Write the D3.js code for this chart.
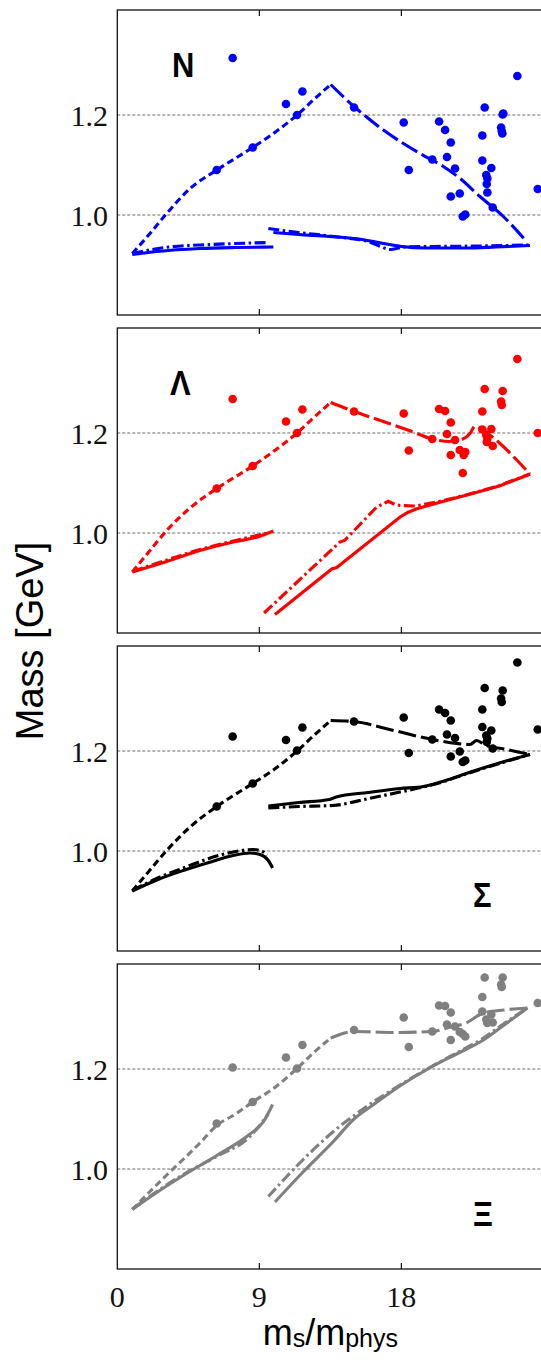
<!DOCTYPE html>
<html><head><meta charset="utf-8">
<script src="https://cdn.jsdelivr.net/npm/d3@7"></script>
<style>html,body{margin:0;padding:0;background:#fff;}svg{display:block;}</style>
</head><body>
<script>
// ---------- data ----------
const panelNames = ["N", "Λ", "Σ", "Ξ"];
const panelColors = ["#0000ff", "#ff0000", "#000000", "#808080"];
const xTicks = [0, 9, 18];
const yTicks = [1.0, 1.2];

// N
const nPoints = [[7.31,1.314],[10.69,1.222],[11.73,1.247],[11.39,1.200],[8.58,1.135],[6.30,1.090],[15.0,1.215],[18.15,1.185],[18.47,1.090],[20.39,1.187],[20.77,1.170],[21.13,1.145],[20.89,1.116],[19.96,1.111],[21.40,1.093],[21.13,1.037],[21.70,1.043],[21.89,0.997],[22.05,1.001],[23.28,1.215],[23.13,1.159],[23.13,1.109],[23.70,1.094],[23.38,1.080],[23.45,1.073],[23.41,1.062],[23.45,1.045],[23.79,1.015],[24.42,1.201],[24.46,1.203],[24.32,1.175],[24.36,1.168],[24.40,1.163],[25.35,1.278],[26.64,1.052]];
const nShortDash = [[0.95,0.923],[2.07,0.963],[3.13,1.003],[4.61,1.053],[6.3,1.09],[8.58,1.135],[9.89,1.163],[11.39,1.2],[12.42,1.23],[13.52,1.261]];
const nLongDash = [[13.52,1.261],[15.0,1.217],[16.86,1.17],[19.18,1.123],[20.66,1.097],[21.72,1.073],[22.98,1.037],[24.46,0.997],[25.9,0.948]];
const nSolidA = [[0.95,0.921],[2.5,0.927],[5.24,0.933],[7.5,0.935],[9.89,0.936]];
const nSolidB = [[9.89,0.965],[11.5,0.961],[13.45,0.957],[15.5,0.951],[16.86,0.943],[18.0,0.937],[19.5,0.934],[22.0,0.934],[24.0,0.936],[26.15,0.939]];
const nDashDotA = [[0.95,0.923],[3.0,0.935],[6.0,0.941],[9.57,0.945]];
const nDashDotB = [[9.57,0.973],[11.5,0.965],[13.45,0.958],[15.0,0.952],[15.8,0.948],[16.6,0.938],[17.28,0.931],[18.2,0.936],[20.0,0.937],[23.0,0.938],[26.15,0.94]];

// Lambda
const lPoints = [[7.31,1.268],[10.69,1.223],[11.73,1.247],[11.39,1.200],[8.58,1.134],[6.30,1.089],[15.0,1.243],[18.15,1.239],[18.47,1.165],[20.39,1.248],[20.77,1.244],[21.13,1.221],[20.89,1.198],[19.96,1.188],[21.40,1.186],[21.13,1.156],[21.70,1.166],[21.89,1.120],[22.05,1.162],[21.95,1.156],[23.28,1.288],[23.13,1.243],[23.13,1.207],[23.70,1.208],[23.38,1.196],[23.45,1.189],[23.41,1.182],[23.79,1.174],[24.42,1.284],[24.32,1.263],[24.36,1.256],[25.35,1.348],[26.64,1.200]];
const lShortDash = [[0.95,0.922],[2.07,0.965],[3.13,1.005],[4.61,1.05],[6.3,1.089],[8.58,1.134],[9.89,1.163],[11.39,1.2],[12.42,1.23],[13.52,1.261]];
const lLongDash = [[13.52,1.261],[15.0,1.243],[16.86,1.223],[18.5,1.205],[19.96,1.188],[21.0,1.183],[21.72,1.186],[22.35,1.199],[22.67,1.214],[23.2,1.205],[24.15,1.182],[25.31,1.146],[26.15,1.118]];
const lSolidA = [[0.95,0.922],[3.13,0.943],[5.24,0.965],[7.35,0.982],[9.0,0.993],[9.89,1.004]];
const lSolidB = [[9.99,0.837],[13.59,0.928],[13.9,0.931],[17.92,1.032],[18.4,1.041],[18.93,1.048],[20.5,1.062],[22.1,1.0755],[24.21,1.094],[25.69,1.112],[26.15,1.118]];
const lDashDotA = [[0.95,0.923],[3.13,0.946],[5.24,0.967],[7.35,0.984],[9.57,1.0]];
const lDashDotB = [[9.3,0.84],[14.11,0.982],[14.4,0.985],[16.44,1.052],[17.17,1.0635],[17.6,1.057],[17.92,1.055],[18.93,1.054],[20.5,1.064],[22.1,1.076],[24.21,1.095],[26.15,1.118]];

// Sigma
const sPoints = [[7.31,1.229],[10.69,1.222],[11.73,1.247],[11.39,1.201],[8.58,1.135],[6.30,1.089],[15.0,1.259],[18.15,1.267],[18.47,1.196],[20.39,1.283],[20.77,1.276],[21.13,1.261],[20.89,1.233],[19.96,1.223],[21.40,1.226],[21.13,1.189],[21.70,1.199],[21.89,1.178],[22.05,1.181],[23.28,1.326],[23.13,1.283],[23.13,1.248],[23.70,1.241],[23.38,1.231],[23.45,1.225],[23.41,1.218],[23.79,1.205],[24.42,1.321],[24.32,1.305],[24.36,1.298],[25.35,1.377],[26.64,1.243]];
const sShortDash = [[0.95,0.92],[2.07,0.962],[3.13,1.001],[4.61,1.048],[6.3,1.089],[8.58,1.135],[9.89,1.162],[11.39,1.2],[12.42,1.23],[13.52,1.261]];
const sLongDash = [[13.52,1.261],[15.0,1.259],[17.0,1.245],[19.96,1.223],[21.5,1.215],[22.35,1.213],[22.77,1.221],[23.3,1.212],[24.5,1.204],[26.15,1.193]];
const sSolidA = [[0.95,0.92],[2.5,0.942],[4.18,0.961],[5.8,0.977],[7.35,0.991],[8.41,0.996],[9.04,0.993],[9.57,0.981],[9.84,0.966]];
const sSolidB = [[9.57,1.09],[11.5,1.097],[13.45,1.103],[13.87,1.108],[15.9,1.117],[17.92,1.125],[19.4,1.129],[20.8,1.141],[22.1,1.155],[24.21,1.176],[26.15,1.193]];
const sDashDotA = [[0.95,0.921],[2.5,0.945],[4.18,0.966],[5.8,0.985],[7.35,0.998],[8.61,1.003],[9.25,0.998],[9.47,0.991]];
const sDashDotB = [[9.57,1.086],[11.5,1.089],[13.66,1.091],[15.8,1.104],[17.92,1.118],[19.4,1.128],[20.8,1.14],[22.1,1.154],[24.21,1.175],[26.15,1.193]];

// Xi
const xPoints = [[7.31,1.203],[10.69,1.223],[11.73,1.248],[11.39,1.201],[8.58,1.134],[6.30,1.091],[15.0,1.278],[18.15,1.303],[18.47,1.244],[20.39,1.327],[20.77,1.326],[21.13,1.313],[20.89,1.289],[19.96,1.275],[21.40,1.285],[21.13,1.258],[21.70,1.274],[21.89,1.270],[22.05,1.265],[23.28,1.383],[23.13,1.344],[23.13,1.315],[23.70,1.309],[23.38,1.299],[23.45,1.292],[23.79,1.293],[24.42,1.383],[24.32,1.369],[24.36,1.364],[26.64,1.332]];
const xShortDash = [[0.95,0.919],[2.07,0.955],[3.13,0.988],[4.2,1.02],[5.24,1.052],[6.3,1.087],[7.5,1.11],[8.58,1.134],[9.89,1.161],[11.39,1.201],[12.42,1.232],[13.52,1.262]];
const xLongDash = [[13.52,1.262],[15.0,1.275],[17.5,1.273],[19.96,1.275],[21.0,1.283],[22.1,1.292],[23.2,1.312],[24.5,1.318],[25.99,1.322]];
const xSolidA = [[0.95,0.919],[2.5,0.953],[4.18,0.987],[6.3,1.027],[8.41,1.07],[9.25,1.094],[9.84,1.129]];
const xSolidB = [[9.99,0.934],[11.8,0.995],[13.66,1.054],[15.0,1.1],[16.2,1.128],[18.0,1.168],[19.96,1.205],[21.5,1.23],[23.2,1.258],[24.6,1.29],[25.99,1.322]];
const xDashDotA = [[0.95,0.92],[2.5,0.955],[4.18,0.989],[6.3,1.025],[8.41,1.065],[9.57,1.11]];
const xDashDotB = [[9.57,0.945],[11.5,1.01],[13.66,1.074],[15.8,1.125],[17.92,1.168],[19.96,1.206],[21.5,1.232],[23.2,1.262],[24.6,1.293],[25.99,1.322]];

const panelPoints = [nPoints, lPoints, sPoints, xPoints];
const panelShort = [nShortDash, lShortDash, sShortDash, xShortDash];
const panelLong = [nLongDash, lLongDash, sLongDash, xLongDash];
const panelSolid = [[nSolidA, nSolidB], [lSolidA, lSolidB], [sSolidA, sSolidB], [xSolidA, xSolidB]];
const panelDashDot = [[nDashDotA, nDashDotB], [lDashDotA, lDashDotB], [sDashDotA, sDashDotB], [xDashDotA, xDashDotB]];

// ---------- layout ----------
const W = 541, H = 1362;
const left = 117.3, right = 543.4;
const panelH = 305, panelStep = 318, firstTop = 10;
const labelPos = [{x:172, dy:67}, {x:170, dy:67}, {x:473, dy:261}, {x:473, dy:262}];
const LW = 3.1;

const svg = d3.select("body").append("svg").attr("width", W).attr("height", H);
const x = d3.scaleLinear().domain([0, 27]).range([left, right]);

panelNames.forEach((name, i) => {
  const top = firstTop + i * panelStep;
  const y = d3.scaleLinear().domain([0.8, 1.41]).range([top + panelH, top]);
  const g = svg.append("g");
  const col = panelColors[i];

  const clipId = "clip" + i;
  svg.append("clipPath").attr("id", clipId).append("rect")
    .attr("x", left).attr("y", top).attr("width", right - left).attr("height", panelH);

  // grid lines
  g.selectAll(".grid").data(yTicks).enter().append("line")
    .attr("x1", left).attr("x2", right)
    .attr("y1", d => y(d)).attr("y2", d => y(d))
    .attr("stroke", "#6a6a6a").attr("stroke-width", 1).attr("stroke-dasharray", "3,2");

  // y tick labels
  g.selectAll(".yl").data(yTicks).enter().append("text")
    .attr("x", 108).attr("y", d => y(d) + 11)
    .attr("text-anchor", "end")
    .attr("font-family", "'Liberation Serif', 'Times New Roman', serif")
    .attr("font-size", 30).attr("fill", "#111")
    .text(d => d3.format(".1f")(d));

  const plot = g.append("g").attr("clip-path", `url(#${clipId})`);
  const smooth = d3.line().x(d => x(d[0])).y(d => y(d[1])).curve(d3.curveMonotoneX);
  const straight = d3.line().x(d => x(d[0])).y(d => y(d[1]));
  const lineFor = seg => (i === 1 && seg[0][1] < 0.9) ? straight(seg) : smooth(seg);

  // solid
  panelSolid[i].forEach(seg => {
    plot.append("path").attr("d", lineFor(seg)).attr("fill", "none")
      .attr("stroke", col).attr("stroke-width", LW);
  });
  // dash-dot
  panelDashDot[i].forEach(seg => {
    plot.append("path").attr("d", lineFor(seg)).attr("fill", "none")
      .attr("stroke", col).attr("stroke-width", LW).attr("stroke-dasharray", "11,3.5,2.5,3.5");
  });
  // short dash
  plot.append("path").attr("d", smooth(panelShort[i])).attr("fill", "none")
    .attr("stroke", col).attr("stroke-width", LW).attr("stroke-dasharray", "7,4");
  // long dash
  plot.append("path").attr("d", smooth(panelLong[i])).attr("fill", "none")
    .attr("stroke", col).attr("stroke-width", LW).attr("stroke-dasharray", "18,5");

  // points
  plot.selectAll(".pt").data(panelPoints[i]).enter().append("circle")
    .attr("cx", d => x(d[0])).attr("cy", d => y(d[1])).attr("r", 4.3).attr("fill", col);

  // frame
  g.append("rect").attr("x", left).attr("y", top).attr("width", right - left).attr("height", panelH)
    .attr("fill", "none").attr("stroke", "#111").attr("stroke-width", 1.3);

  // x ticks (inward, top and bottom)
  xTicks.filter(t => t > 0).forEach(t => {
    g.append("line").attr("x1", x(t)).attr("x2", x(t)).attr("y1", top).attr("y2", top + 6)
      .attr("stroke", "#111").attr("stroke-width", 1.2);
    g.append("line").attr("x1", x(t)).attr("x2", x(t)).attr("y1", top + panelH).attr("y2", top + panelH - 6)
      .attr("stroke", "#111").attr("stroke-width", 1.2);
  });

  // panel label
  const lp = labelPos[i];
  g.append("text").attr("transform", `translate(${lp.x},${top + lp.dy}) scale(0.86,1)`)
    .attr("font-family", "'Liberation Sans', Arial, sans-serif").attr("font-weight", "bold")
    .attr("font-size", 36).attr("fill", "#000").text(name);
});

// x tick labels
const lastTop = firstTop + 3 * panelStep;
svg.selectAll(".xl").data(xTicks).enter().append("text")
  .attr("x", d => x(d)).attr("y", lastTop + panelH + 38)
  .attr("text-anchor", "middle")
  .attr("font-family", "'Liberation Serif', 'Times New Roman', serif")
  .attr("font-size", 30).attr("fill", "#111")
  .text(d => d);

// x axis label
const xl = svg.append("text").attr("x", (left + right) / 2).attr("y", 1345)
  .attr("text-anchor", "middle")
  .attr("font-family", "'Liberation Sans', Arial, sans-serif").attr("font-size", 36).attr("fill", "#000");
xl.append("tspan").text("m");
xl.append("tspan").attr("font-size", 25).attr("dy", 2).text("s");
xl.append("tspan").attr("dy", -2).text("/m");
xl.append("tspan").attr("font-size", 25).attr("dy", 2).text("phys");

// y axis label
svg.append("text").attr("transform", "translate(43,641) rotate(-90)")
  .attr("text-anchor", "middle")
  .attr("font-family", "'Liberation Sans', Arial, sans-serif").attr("font-size", 38).attr("fill", "#000")
  .text("Mass [GeV]");
</script>
</body></html>
